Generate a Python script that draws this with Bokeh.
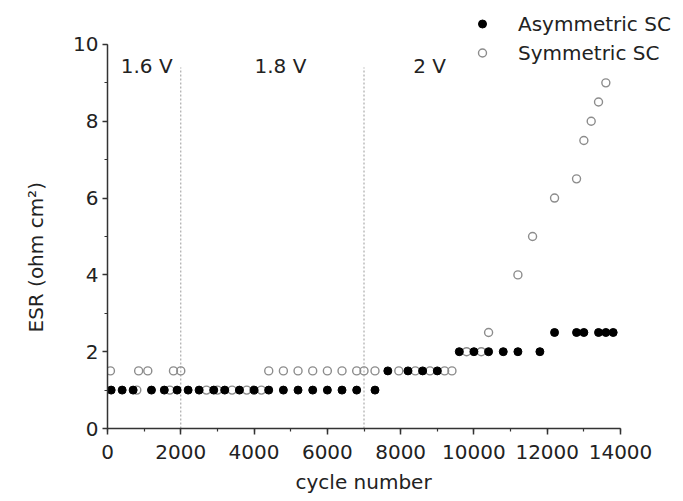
from bokeh.plotting import figure
from bokeh.models import Range1d, Legend, LegendItem, Title, SingleIntervalTicker
from bokeh.core.properties import value
from bokeh.embed import file_html
from bokeh.resources import INLINE

# ---- data ----
asym_cycles = [100, 400, 700, 1200, 1550, 1900, 2200, 2500, 2900, 3200, 3600, 4000,
               4400, 4800, 5200, 5600, 6000, 6400, 6800, 7300,
               7650, 8200, 8600, 9000,
               9600, 10000, 10400, 10800, 11200, 11800,
               12200, 12800, 13000, 13400, 13600, 13800]
asym_esr = [1.0] * 20 + [1.5] * 4 + [2.0] * 6 + [2.5] * 6

sym_cycles = [80, 850, 1100, 1800, 2000, 4400, 4800, 5200, 5600, 6000, 6400, 6800, 7000, 7300,
              800, 1700, 2700, 3000, 3400, 3800, 4200,
              7950, 8400, 8800, 9200, 9400,
              9800, 10200,
              10400, 11200, 11600, 12200, 12800, 13000, 13200, 13400, 13600]
sym_esr = [1.5] * 14 + [1.0] * 7 + [1.5] * 5 + [2.0] * 2 + \
          [2.5, 4.0, 5.0, 6.0, 6.5, 7.5, 8.0, 8.5, 9.0]

vline_cycles = [2000, 7000]
vline_top = 9.4
volt_labels = ["1.6 V", "1.8 V", "2 V"]
volt_label_x = [1070, 4720, 8790]
volt_label_y = [9.45, 9.45, 9.45]

y_title = "ESR (ohm cm²)"
x_title = "cycle number"

FONT = "DejaVu Sans"
TXT = "#222222"
AX = "#333333"

p = figure(width=683, height=501, output_backend="svg", toolbar_location=None,
           x_range=Range1d(0, 15719), y_range=Range1d(0, 11.04),
           min_border_left=107, min_border_right=0, min_border_top=4, min_border_bottom=73)
p.outline_line_color = None
p.grid.visible = False
p.background_fill_color = "white"

p.segment(x0=vline_cycles, y0=0, x1=vline_cycles, y1=vline_top,
          line_dash="2 2", line_color="#9a9a9a", line_width=1)

r_sym = p.scatter(sym_cycles, sym_esr, marker="circle", size=8, fill_color=None,
                  line_color="#8c8c8c", line_width=1.4)
r_asym = p.scatter(asym_cycles, asym_esr, marker="circle", size=8, fill_color="black",
                   line_color="black", line_width=1)

p.text(x=volt_label_x, y=volt_label_y, text=volt_labels, text_font=value(FONT),
       text_font_size="20px", text_align="center", text_baseline="middle", text_color=TXT)

# axes
for ax in (p.xaxis[0], p.yaxis[0]):
    ax.axis_line_color = AX
    ax.axis_line_width = 1.5
    ax.major_tick_line_color = AX
    ax.minor_tick_line_color = AX
    ax.major_tick_line_width = 1.5
    ax.minor_tick_line_width = 1.2
    ax.major_tick_in = 0
    ax.minor_tick_in = 0
    ax.minor_tick_out = 3
    ax.major_label_text_font = FONT
    ax.major_label_text_font_size = "20px"
    ax.major_label_text_color = TXT

p.xaxis.ticker = SingleIntervalTicker(interval=2000, num_minor_ticks=2)
p.yaxis.ticker = SingleIntervalTicker(interval=2, num_minor_ticks=2)
p.xaxis.bounds = (0, 14000)
p.yaxis.bounds = (0, 10)
p.xaxis.major_tick_out = 6
p.yaxis.major_tick_out = 5
p.xaxis.major_label_standoff = 10
p.yaxis.major_label_standoff = 4

# axis titles (as side titles, so they can sit off-centre as in the reference)
xt = Title(text=x_title, align="left", offset=188, vertical_align="bottom", standoff=13,
           text_font=FONT, text_font_size="20px", text_font_style="normal", text_color=TXT)
p.add_layout(xt, "below")
yt = Title(text=y_title, align="left", offset=96, vertical_align="top", standoff=42,
           text_font=FONT, text_font_size="20px", text_font_style="normal", text_color=TXT)
p.add_layout(yt, "left")

legend = Legend(items=[LegendItem(label="Asymmetric SC", renderers=[r_asym]),
                       LegendItem(label="Symmetric SC", renderers=[r_sym])],
                location=(365, 363), padding=0, margin=0, spacing=4,
                glyph_width=20, glyph_height=25, label_height=25, label_standoff=26,
                label_text_font=FONT, label_text_font_size="20px", label_text_color=TXT,
                border_line_color=None, background_fill_alpha=0)
p.add_layout(legend)

open("out.html", "w").write(file_html(p, INLINE))
